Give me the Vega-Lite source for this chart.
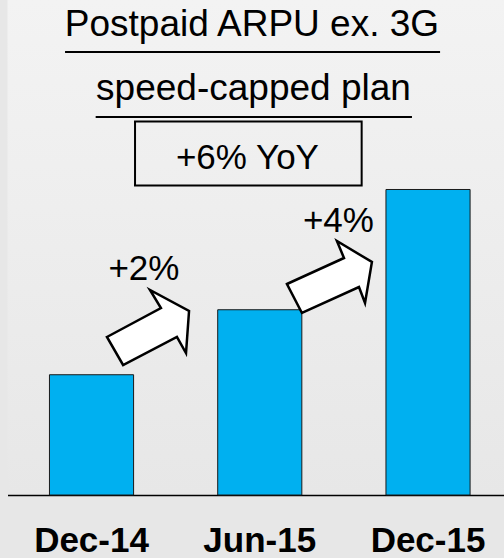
{
  "$schema": "https://vega.github.io/schema/vega-lite/v6.json",
  "width": 496.5,
  "height": 495,
  "autosize": {"type": "none"},
  "padding": {"left": 7.5, "top": 0, "right": 0, "bottom": 63},
  "background": "#e7e7e7",
  "config": {
    "view": {"stroke": null, "fill": {"gradient": "linear", "x1": 0, "y1": 0, "x2": 0, "y2": 1, "stops": [{"offset": 0, "color": "#f3f3f3"}, {"offset": 1, "color": "#e7e7e7"}]}},
    "font": "Liberation Sans"
  },
  "datasets": {
    "bars": [
      {"period": "Dec-14", "arpu": 100},
      {"period": "Jun-15", "arpu": 102},
      {"period": "Dec-15", "arpu": 105.7}
    ],
    "titles": [
      {"text": "Postpaid ARPU ex. 3G", "u": 1.453, "v": 110.42},
      {"text": "speed-capped plan", "u": 1.462, "v": 108.45}
    ],
    "labels": [
      {"text": "+6% YoY", "u": 1.426, "v": 106.33},
      {"text": "+2%", "u": 0.811, "v": 102.92},
      {"text": "+4%", "u": 1.967, "v": 104.39}
    ],
    "underlines": [
      {"u": 0.342, "u2": 2.571, "v": 109.93},
      {"u": 0.524, "u2": 2.404, "v": 107.93}
    ],
    "box": [
      {"u": 0.758, "u2": 2.105, "v": 107.79, "v2": 105.82}
    ],
    "arrows": [
      {"arrow": "a", "i": 1, "u": 0.591, "v": 101.162},
      {"arrow": "a", "i": 2, "u": 0.912, "v": 102.054},
      {"arrow": "a", "i": 3, "u": 0.847, "v": 102.608},
      {"arrow": "a", "i": 4, "u": 1.079, "v": 101.962},
      {"arrow": "a", "i": 5, "u": 1.061, "v": 100.669},
      {"arrow": "a", "i": 6, "u": 1.007, "v": 101.162},
      {"arrow": "a", "i": 7, "u": 0.687, "v": 100.3},
      {"arrow": "b", "i": 1, "u": 1.661, "v": 102.792},
      {"arrow": "b", "i": 2, "u": 2.0, "v": 103.592},
      {"arrow": "b", "i": 3, "u": 1.958, "v": 104.115},
      {"arrow": "b", "i": 4, "u": 2.166, "v": 103.469},
      {"arrow": "b", "i": 5, "u": 2.125, "v": 102.208},
      {"arrow": "b", "i": 6, "u": 2.089, "v": 102.7},
      {"arrow": "b", "i": 7, "u": 1.750, "v": 101.9}
    ]
  },
  "layer": [
    {
      "data": {"name": "bars"},
      "mark": {"type": "bar", "color": "#00b0f0", "stroke": "#1a1a1a", "strokeWidth": 1},
      "encoding": {
        "x": {
          "field": "period", "type": "nominal", "sort": null,
          "scale": {"paddingInner": 0.5, "paddingOuter": 0.2255, "align": 0.553},
          "axis": {"title": null, "ticks": false, "grid": false, "domainColor": "#000", "domainWidth": 1.5, "labelAngle": 0, "labelFont": "Liberation Sans", "labelFontSize": 35, "labelFontWeight": "bold", "labelColor": "#000", "labelBaseline": "alphabetic", "labelPadding": 56}
        },
        "y": {"field": "arpu", "type": "quantitative", "scale": {"domain": [96.3, 111.53], "zero": false, "nice": false}, "axis": null},
        "y2": {"datum": 96.3}
      }
    },
    {
      "data": {"name": "underlines"},
      "mark": {"type": "rule", "color": "#000", "strokeWidth": 2},
      "encoding": {
        "x": {"field": "u", "type": "quantitative", "scale": {"domain": [0, 2.951], "zero": false, "nice": false}, "axis": null},
        "x2": {"field": "u2"},
        "y": {"field": "v", "type": "quantitative", "scale": {"domain": [96.3, 111.53], "zero": false, "nice": false}, "axis": null}
      }
    },
    {
      "data": {"name": "box"},
      "mark": {"type": "rect", "fillOpacity": 0, "fill": "#ffffff", "stroke": "#000", "strokeWidth": 2},
      "encoding": {
        "x": {"field": "u", "type": "quantitative", "scale": {"domain": [0, 2.951], "zero": false, "nice": false}, "axis": null},
        "x2": {"field": "u2"},
        "y": {"field": "v", "type": "quantitative", "scale": {"domain": [96.3, 111.53], "zero": false, "nice": false}, "axis": null},
        "y2": {"field": "v2"}
      }
    },
    {
      "data": {"name": "arrows"},
      "mark": {"type": "line", "interpolate": "linear-closed", "stroke": "#000", "fill": "#ffffff", "strokeWidth": 2.5, "strokeJoin": "miter"},
      "encoding": {
        "x": {"field": "u", "type": "quantitative", "scale": {"domain": [0, 2.951], "zero": false, "nice": false}, "axis": null},
        "y": {"field": "v", "type": "quantitative", "scale": {"domain": [96.3, 111.53], "zero": false, "nice": false}, "axis": null},
        "detail": {"field": "arrow", "type": "nominal"},
        "order": {"field": "i", "type": "quantitative"}
      }
    },
    {
      "data": {"name": "titles"},
      "mark": {"type": "text", "font": "Liberation Sans", "fontSize": 37, "color": "#000", "align": "center", "baseline": "alphabetic"},
      "encoding": {
        "x": {"field": "u", "type": "quantitative", "scale": {"domain": [0, 2.951], "zero": false, "nice": false}, "axis": null},
        "y": {"field": "v", "type": "quantitative", "scale": {"domain": [96.3, 111.53], "zero": false, "nice": false}, "axis": null},
        "text": {"field": "text", "type": "nominal"}
      }
    },
    {
      "data": {"name": "labels"},
      "mark": {"type": "text", "font": "Liberation Sans", "fontSize": 35, "color": "#000", "align": "center", "baseline": "alphabetic"},
      "encoding": {
        "x": {"field": "u", "type": "quantitative", "scale": {"domain": [0, 2.951], "zero": false, "nice": false}, "axis": null},
        "y": {"field": "v", "type": "quantitative", "scale": {"domain": [96.3, 111.53], "zero": false, "nice": false}, "axis": null},
        "text": {"field": "text", "type": "nominal"}
      }
    }
  ],
  "resolve": {"scale": {"x": "independent"}}
}
